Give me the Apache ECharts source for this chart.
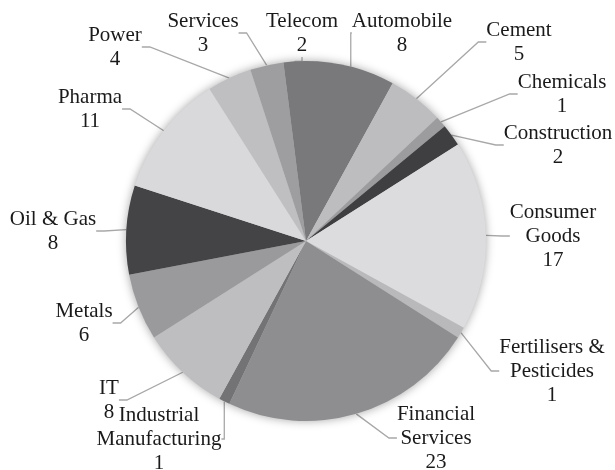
<!DOCTYPE html>
<html>
<head>
<meta charset="utf-8">
<script src="https://cdn.jsdelivr.net/npm/echarts@6/dist/echarts.min.js"></script>
<style>
  html, body { margin: 0; padding: 0; background: #fff; }
  #chart { width: 615px; height: 470px; }
</style>
</head>
<body>
<div id="chart"></div>
<script>
// sectors in drawing order, clockwise from 12 o'clock
const sectors = ['Automobile', 'Cement', 'Chemicals', 'Construction', 'Consumer\nGoods',
  'Fertilisers &\nPesticides', 'Financial\nServices', 'Industrial\nManufacturing', 'IT',
  'Metals', 'Oil & Gas', 'Pharma', 'Power', 'Services', 'Telecom']
const counts = [8, 5, 1, 2, 17, 1, 23, 1, 8, 6, 8, 11, 4, 3, 2]
const shades = ['#79797b', '#bdbdbf', '#9c9c9e', '#3f3f41', '#dcdcde',
  '#b9b9bb', '#8e8e90', '#737375', '#bebec0',
  '#9a9a9c', '#444446', '#d9d9db', '#bfbfc1', '#9e9ea0', '#79797b']

// where each label block sits (centre of the text)
const labelSpots = [[402, 33], [519, 42], [562, 94], [558, 145], [553, 236],
  [552, 371], [436, 438], [159, 439], [109, 400],
  [84, 323], [53, 231], [90, 109], [115, 47], [203, 33], [302, 33]]

const pieCenter = [306, 241]
const pieRadius = 180

const chart = echarts.init(document.getElementById('chart'), undefined, { renderer: 'canvas' })

chart.setOption({
  animation: false,
  series: [
    {
      // soft shadow behind the pie
      type: 'pie',
      silent: true,
      center: pieCenter,
      radius: pieRadius,
      label: { show: false },
      labelLine: { show: false },
      itemStyle: {
        color: '#d0d0d2',
        shadowBlur: 10,
        shadowColor: 'rgba(0,0,0,0.35)'
      },
      data: [{ value: 1, name: '' }]
    },
    {
      type: 'pie',
      center: pieCenter,
      radius: pieRadius,
      startAngle: 90,
      clockwise: true,
      avoidLabelOverlap: false,
      itemStyle: { borderWidth: 0 },
      label: {
        show: true,
        position: 'outside',
        formatter: '{b}\n{c}',
        fontFamily: 'Liberation Serif',
        fontSize: 21,
        lineHeight: 24,
        color: '#1a1a1a',
        align: 'center'
      },
      labelLine: {
        show: true,
        length: 10,
        length2: 8,
        lineStyle: { color: '#a8a8a8', width: 1.3 }
      },
      labelLayout: function (params) {
        const spot = labelSpots[params.dataIndex]
        return {
          x: spot[0],
          y: spot[1],
          align: 'center',
          verticalAlign: 'middle'
        }
      },
      emphasis: { disabled: true },
      data: sectors.map((s, i) => ({
        name: s,
        value: counts[i],
        itemStyle: { color: shades[i] }
      }))
    }
  ]
})
</script>
</body>
</html>
